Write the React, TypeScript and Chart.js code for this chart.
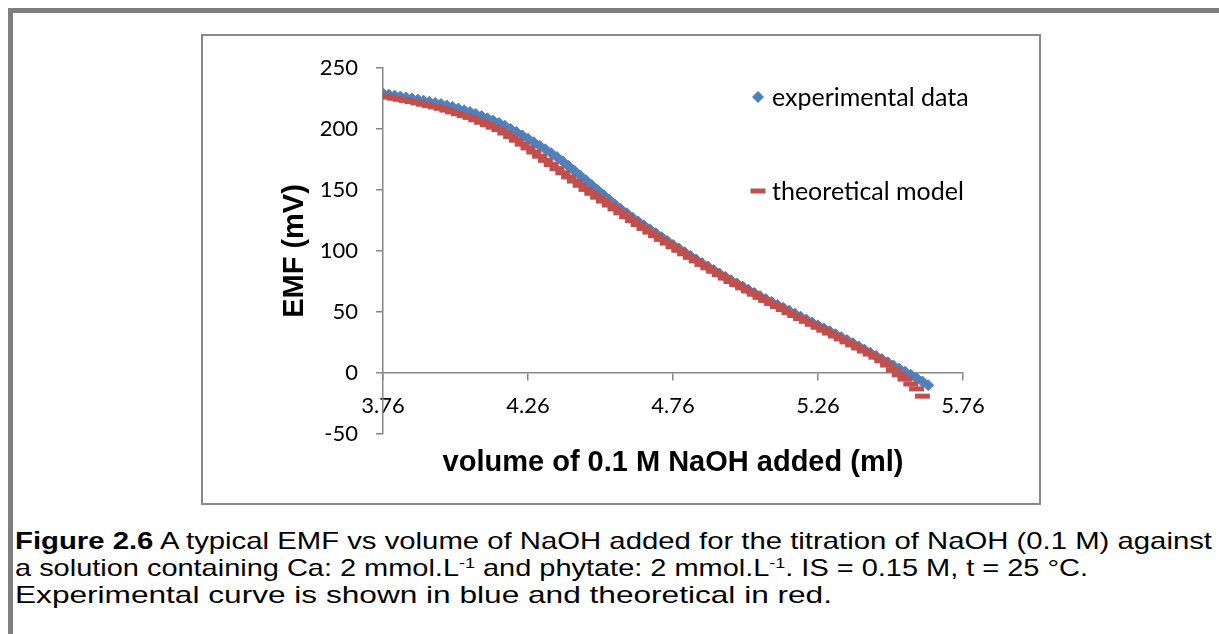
import React, { useEffect, useLayoutEffect, useRef } from "react";
import { Chart, registerables } from "chart.js";

Chart.register(...registerables);

// ---------- data ----------
const volumes = [
  3.76, 3.78, 3.8, 3.82, 3.84, 3.86, 3.88, 3.9, 3.92, 3.94,
  3.96, 3.98, 4.0, 4.02, 4.04, 4.06, 4.08, 4.1, 4.12, 4.14,
  4.16, 4.18, 4.2, 4.22, 4.24, 4.26, 4.28, 4.3, 4.32, 4.34,
  4.36, 4.38, 4.4, 4.42, 4.44, 4.46, 4.48, 4.5, 4.52, 4.54,
  4.56, 4.58, 4.6, 4.62, 4.64, 4.66, 4.68, 4.7, 4.72, 4.74,
  4.76, 4.78, 4.8, 4.82, 4.84, 4.86, 4.88, 4.9, 4.92, 4.94,
  4.96, 4.98, 5.0, 5.02, 5.04, 5.06, 5.08, 5.1, 5.12, 5.14,
  5.16, 5.18, 5.2, 5.22, 5.24, 5.26, 5.28, 5.3, 5.32, 5.34,
  5.36, 5.38, 5.4, 5.42, 5.44, 5.46, 5.48, 5.5, 5.52, 5.54,
  5.56, 5.58, 5.6, 5.62, 5.64,
];

const experimental = [
  229.0, 228.2, 227.4, 226.6, 225.8, 225.0, 224.1, 223.2, 222.3, 221.4,
  220.5, 219.3, 218.1, 216.8, 215.4, 214.0, 212.3, 210.6, 208.8, 206.9,
  205.0, 202.6, 200.1, 197.5, 194.8, 192.0, 189.2, 186.3, 183.3, 180.2,
  177.0, 173.4, 169.6, 165.8, 161.9, 158.0, 154.0, 150.0, 146.0, 142.0,
  138.0, 134.4, 130.9, 127.5, 124.2, 121.0, 117.8, 114.6, 111.4, 108.2,
  105.0, 102.0, 99.0, 96.0, 93.0, 90.0, 87.2, 84.4, 81.6, 78.8,
  76.0, 73.4, 70.8, 68.2, 65.6, 63.0, 60.6, 58.2, 55.8, 53.4,
  51.0, 48.6, 46.2, 43.8, 41.4, 39.0, 36.6, 34.2, 31.8, 29.4,
  27.0, 24.4, 21.8, 19.2, 16.6, 14.0, 11.4, 8.8, 6.2, 3.6,
  1.0, -1.5, -4.2, -7.0, -10.0,
];

const theoretical = [
  227.0, 226.1, 225.2, 224.3, 223.4, 222.5, 221.4, 220.3, 219.2, 218.1,
  217.0, 215.5, 214.0, 212.5, 211.0, 209.5, 207.5, 205.5, 203.5, 201.5,
  199.5, 196.7, 193.8, 190.8, 187.6, 184.5, 181.1, 177.7, 174.3, 170.9,
  167.5, 164.1, 160.7, 157.3, 153.9, 150.5, 147.3, 144.1, 140.9, 137.7,
  134.5, 131.3, 128.1, 124.9, 121.7, 118.5, 115.5, 112.5, 109.5, 106.5,
  103.5, 100.6, 97.7, 94.8, 91.9, 89.0, 86.2, 83.4, 80.6, 77.8,
  75.0, 72.4, 69.8, 67.2, 64.6, 62.0, 59.5, 57.0, 54.5, 52.0,
  49.5, 47.1, 44.7, 42.3, 39.9, 37.5, 35.1, 32.7, 30.3, 27.9,
  25.5, 23.0, 20.5, 18.0, 15.5, 13.0, 10.0, 6.5, 2.5, -1.5,
  -5.0, -9.0, -13.0, -19.0, null,
];

const xTickValues = [3.76, 4.26, 4.76, 5.26, 5.76];
const yMin = -50;
const yMax = 250;
const yStep = 50;

const seriesNames = ["experimental data", "theoretical model"];
const xTitle = "volume of 0.1 M NaOH added (ml)";
const yTitle = "EMF (mV)";

const captionBold = "Figure 2.6";
const captionLine1 = " A typical EMF vs volume of NaOH added for the titration of NaOH (0.1 M) against";
const captionLine2a = "a solution containing Ca: 2 mmol.L";
const captionLine2b = " and phytate: 2 mmol.L";
const captionLine2c = ". IS = 0.15 M, t = 25 °C.";
const captionSup = "-1";
const captionLine3 = "Experimental curve is shown in blue and theoretical in red.";

// ---------- styles ----------
const BLUE = "#4F81BD";
const RED = "#C0504D";
const AXIS = "#868686";
const TICK_FONT = "Lato";
const TITLE_FONT = '"Liberation Sans", Arial, sans-serif';

const overlayPlugin = {
  id: "overlayText",
  afterDraw(chart: any) {
    const { ctx, chartArea: a } = chart;
    ctx.save();
    // legend
    const lx = a.left + 375;
    const ly1 = a.top + 29;
    const ly2 = a.top + 123;
    ctx.fillStyle = BLUE;
    ctx.beginPath();
    ctx.moveTo(lx - 6, ly1);
    ctx.lineTo(lx, ly1 - 6);
    ctx.lineTo(lx + 6, ly1);
    ctx.lineTo(lx, ly1 + 6);
    ctx.closePath();
    ctx.fill();
    ctx.fillStyle = RED;
    ctx.fillRect(lx - 7.5, ly2 - 2.5, 15, 5);
    ctx.fillStyle = "#000";
    ctx.font = `25px ${TICK_FONT}`;
    ctx.textAlign = "left";
    ctx.textBaseline = "middle";
    ctx.fillText(seriesNames[0], lx + 14, ly1 + 1);
    ctx.fillText(seriesNames[1], lx + 14, ly2 + 1);
    // axis titles
    ctx.font = `bold 29px ${TITLE_FONT}`;
    ctx.textAlign = "center";
    ctx.fillText(xTitle, (a.left + a.right) / 2, a.bottom + 29);
    ctx.translate(a.left - 88, (a.top + a.bottom) / 2);
    ctx.rotate(-Math.PI / 2);
    ctx.fillText(yTitle, 0, 0);
    ctx.restore();
  },
};

function ChartCanvas() {
  const ref = useRef<HTMLCanvasElement | null>(null);
  useEffect(() => {
    if (!ref.current) return;
    const chart = new Chart(ref.current, {
      type: "scatter",
      data: {
        datasets: [
          {
            label: seriesNames[0],
            data: volumes.map((v, i) => ({ x: v, y: experimental[i] })),
            pointStyle: "rectRot",
            pointRadius: 5.5,
            backgroundColor: BLUE,
            borderColor: BLUE,
            borderWidth: 1,
            showLine: false,
            order: 1,
          },
          {
            label: seriesNames[1],
            data: volumes
              .map((v, i) => ({ x: v, y: theoretical[i] }))
              .filter((p) => p.y !== null),
            pointStyle: "line",
            pointRadius: 7.5,
            borderColor: RED,
            backgroundColor: RED,
            borderWidth: 5,
            showLine: false,
            order: 0,
          },
        ],
      },
      options: {
        animation: false,
        responsive: false,
        maintainAspectRatio: false,
        events: [],
        layout: { padding: { left: 0, top: 32, right: 76, bottom: 69 } },
        plugins: {
          legend: { display: false },
          tooltip: { enabled: false },
        },
        scales: {
          x: {
            type: "linear",
            position: { y: 0 } as any,
            min: xTickValues[0],
            max: xTickValues[xTickValues.length - 1],
            afterBuildTicks: (s: any) => {
              s.ticks = xTickValues.map((v) => ({ value: v }));
            },
            afterFit: (s: any) => {
              s.height = 0;
            },
            grid: {
              drawOnChartArea: false,
              drawTicks: true,
              tickLength: 7,
              color: AXIS,
              lineWidth: 1.5,
            },
            border: { display: true, color: AXIS, width: 1.5 },
            ticks: {
              autoSkip: false,
              maxRotation: 0,
              padding: 13,
              color: "#000",
              font: { family: TICK_FONT, size: 22 },
              callback: (v: any) => Number(v).toFixed(2),
            },
          },
          y: {
            type: "linear",
            position: "left",
            min: yMin,
            max: yMax,
            afterFit: (s: any) => {
              s.width = 180;
            },
            grid: {
              drawOnChartArea: false,
              drawTicks: true,
              tickLength: 7,
              color: AXIS,
              lineWidth: 1.5,
            },
            border: { display: true, color: AXIS, width: 1.5 },
            ticks: {
              stepSize: yStep,
              padding: 18,
              color: "#000",
              font: { family: TICK_FONT, size: 22 },
              callback: (v: any) => String(v),
            },
          },
        },
      },
      plugins: [overlayPlugin],
    } as any);
    return () => chart.destroy();
  }, []);
  return <canvas ref={ref} width={836} height={467} style={{ display: "block", width: 836, height: 467 }} />;
}

// a caption line stretched horizontally to a target width
function FitLine({ width, children }: { width: number; children: React.ReactNode }) {
  const ref = useRef<HTMLSpanElement | null>(null);
  useLayoutEffect(() => {
    const el = ref.current;
    if (!el) return;
    el.style.transform = "none";
    const w = el.getBoundingClientRect().width;
    if (w > 0) el.style.transform = `scaleX(${width / w})`;
  }, [width]);
  return (
    <div style={{ height: 27 }}>
      <span ref={ref} style={{ display: "inline-block", transformOrigin: "left top", whiteSpace: "nowrap" }}>
        {children}
      </span>
    </div>
  );
}

export default function App() {
  const capStyle: React.CSSProperties = {
    fontFamily: TITLE_FONT,
    fontSize: 24,
    lineHeight: "27px",
    color: "#000",
  };
  const sup: React.CSSProperties = { fontSize: "0.62em", verticalAlign: "0.55em", lineHeight: 0 };
  return (
    <div
      style={{
        position: "fixed",
        left: 8,
        top: 8,
        width: 1211,
        height: 626,
        borderTop: "5px solid #7f7f7f",
        borderLeft: "5px solid #7f7f7f",
        boxSizing: "border-box",
        background: "#fff",
        overflow: "hidden",
      }}
    >
      <div
        style={{
          position: "absolute",
          left: 188,
          top: 21,
          width: 840,
          height: 471,
          border: "2px solid #898989",
          boxSizing: "border-box",
        }}
      >
        <ChartCanvas />
      </div>
      <div style={{ position: "absolute", left: 2, top: 514, ...capStyle }}>
        <FitLine width={1197}>
          <b>{captionBold}</b>
          {captionLine1}
        </FitLine>
        <FitLine width={1073}>
          {captionLine2a}
          <sup style={sup}>{captionSup}</sup>
          {captionLine2b}
          <sup style={sup}>{captionSup}</sup>
          {captionLine2c}
        </FitLine>
        <FitLine width={817}>{captionLine3}</FitLine>
      </div>
    </div>
  );
}
